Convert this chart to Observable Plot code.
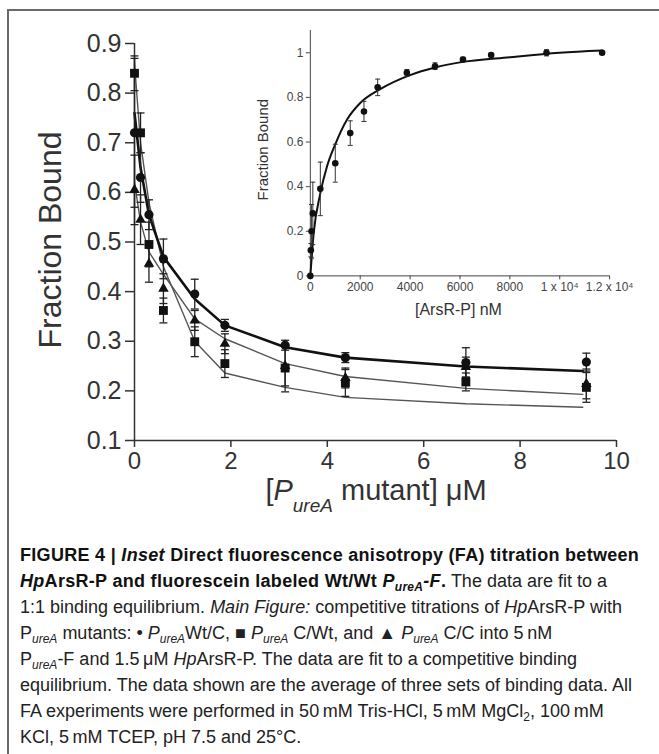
<!DOCTYPE html>
<html><head><meta charset="utf-8">
<script src="https://cdn.jsdelivr.net/npm/d3@7"></script>
<script src="https://cdn.jsdelivr.net/npm/@observablehq/plot@0.6"></script>
<style>
html,body{margin:0;padding:0;background:#fff;}
body{width:659px;height:754px;position:relative;overflow:hidden;font-family:"Liberation Sans",Arial,sans-serif;}
#main{position:absolute;left:0;top:0;}
#inset{position:absolute;left:240px;top:20px;}
#frame{position:absolute;left:7px;top:9px;right:-10px;bottom:-10px;border-left:2px solid #6a6a6a;border-top:2px solid #6a6a6a;pointer-events:none;}
#caption{position:absolute;left:20px;top:542px;font-size:18px;line-height:26px;color:#222;white-space:nowrap;}
#caption sub{font-size:12px;line-height:0;vertical-align:-4px;}
#caption b{color:#111;letter-spacing:0.3px;}
</style></head>
<body>
<div id="main"></div>
<div id="inset"></div>
<div id="frame"></div>
<div id="caption">
<b>FIGURE 4 | <i>Inset</i> Direct fluorescence anisotropy (FA) titration between</b><br>
<b><i>Hp</i>ArsR-P and fluorescein labeled Wt/Wt <i>P<sub>ureA</sub>-F</i>.</b> The data are fit to a<br>
1:1 binding equilibrium. <i>Main Figure:</i> competitive titrations of <i>Hp</i>ArsR-P with<br>
P<sub><i>ureA</i></sub> mutants: &#8226; <i>P<sub>ureA</sub></i>Wt/C, &#9632; <i>P<sub>ureA</sub></i> C/Wt, and &#9650; <i>P<sub>ureA</sub></i> C/C into 5&#8201;nM<br>
P<sub><i>ureA</i></sub>-F and 1.5&#8201;&#956;M <i>Hp</i>ArsR-P. The data are fit to a competitive binding<br>
equilibrium. The data shown are the average of three sets of binding data. All<br>
FA experiments were performed in 50&#8201;mM Tris-HCl, 5&#8201;mM MgCl<sub>2</sub>, 100&#8201;mM<br>
KCl, 5&#8201;mM TCEP, pH 7.5 and 25&#176;C.
</div>
<script>
// ---------- Main figure data ----------
const conc = [0, 0.125, 0.3, 0.6, 1.25, 1.875, 3.125, 4.375, 6.875, 9.375];
const wtC    = [0.72, 0.63, 0.555, 0.466, 0.395, 0.332, 0.292, 0.267, 0.257, 0.258];
const wtCErr = [0.15, 0.05, 0.03, 0.04, 0.03, 0.012, 0.01, 0.01, 0.03, 0.018];
const cWt    = [0.84, 0.72, 0.495, 0.362, 0.299, 0.255, 0.246, 0.216, 0.218, 0.207];
const cWtErr = [0.035, 0.04, 0.045, 0.025, 0.03, 0.028, 0.048, 0.027, 0.018, 0.03];
const cC     = [0.605, 0.545, 0.456, 0.406, 0.342, 0.295, 0.25, 0.226, 0.248, 0.214];
const cCErr  = [0.07, 0.05, 0.037, 0.03, 0.02, 0.02, 0.04, 0.02, 0.02, 0.03];

const fitConc = [0, 0.125, 0.3, 0.6, 1.25, 1.875, 3.125, 4.375, 6.875, 9.3];
const fitWtC  = [0.76, 0.65, 0.555, 0.47, 0.385, 0.332, 0.288, 0.267, 0.249, 0.24];
const fitCC   = [0.62, 0.54, 0.48, 0.435, 0.345, 0.305, 0.255, 0.229, 0.205, 0.193];
const fitCWt  = [0.86, 0.70, 0.58, 0.45, 0.30, 0.236, 0.207, 0.187, 0.174, 0.167];

const xTicks = [0, 2, 4, 6, 8, 10];
const yTicks = [0.1, 0.2, 0.3, 0.4, 0.5, 0.6, 0.7, 0.8, 0.9];

// ---------- Inset data ----------
const insetConc = [0, 20, 50, 100, 400, 1000, 1600, 2150, 2700, 3870, 5000, 6120, 7250, 9470, 11700];
const insetFB   = [0, 0.115, 0.2, 0.28, 0.39, 0.505, 0.64, 0.737, 0.845, 0.91, 0.94, 0.97, 0.99, 1.0, 1.0];
const insetErr  = [0, 0.03, 0.12, 0.14, 0.12, 0.085, 0.055, 0.045, 0.037, 0.015, 0.015, 0.01, 0.008, 0.014, 0.006];
const insetFitConc = [0, 133, 400, 667, 1000, 1467, 2000, 2800, 4000, 5000, 6000, 8000, 10000, 11700];
const insetFitFB   = [0, 0.19, 0.37, 0.49, 0.59, 0.70, 0.775, 0.837, 0.9, 0.934, 0.957, 0.98, 1.0, 1.01];
const insetXTicks = [0, 2000, 4000, 6000, 8000, 10000, 12000];
const insetXTickLabels = ["0", "2000", "4000", "6000", "8000", "1 x 10\u2074", "1.2 x 10\u2074"];
const insetYTicks = [0, 0.2, 0.4, 0.6, 0.8, 1];
const insetYTickLabels = ["0", "0.2", "0.4", "0.6", "0.8", "1"];

// ---------- helpers ----------
const rows = (xs, ys, es) => xs.map((x, i) => ({x, y: ys[i], e: es ? es[i] : 0}));
const capsOf = (rs) => rs.flatMap(d => [{x: d.x, y: d.y - d.e}, {x: d.x, y: d.y + d.e}]);
const capSymbol = {draw(ctx, size) { const w = Math.sqrt(size / Math.PI); ctx.moveTo(-w, 0); ctx.lineTo(w, 0); }};

const sWtC = rows(conc, wtC, wtCErr), sCWt = rows(conc, cWt, cWtErr), sCC = rows(conc, cC, cCErr);
const allPts = [...sWtC, ...sCWt, ...sCC];
const FONT = "Liberation Sans, Arial, Helvetica, sans-serif";

const main = Plot.plot({
  width: 659, height: 530,
  marginLeft: 134, marginRight: 43, marginTop: 43, marginBottom: 90,
  x: {domain: [0, 10]},
  y: {domain: [0.1, 0.9]},
  style: {fontFamily: FONT, color: "#333", background: "transparent"},
  marks: [
    Plot.axisX({ticks: xTicks, tickSize: 7, tickPadding: 4, fontSize: 24, label: null, tickFormat: d => String(d), strokeWidth: 1.5}),
    Plot.axisY({ticks: yTicks, tickSize: 9, tickPadding: 4, fontSize: 25, label: null, tickFormat: d3.format(".1f"), strokeWidth: 1.5}),
    Plot.ruleX([0], {stroke: "#333", strokeWidth: 1.5}),
    Plot.ruleY([0.1], {stroke: "#333", strokeWidth: 1.5}),
    Plot.line(rows(fitConc, fitCWt), {x: "x", y: "y", stroke: "#555", strokeWidth: 1.4}),
    Plot.line(rows(fitConc, fitCC), {x: "x", y: "y", stroke: "#555", strokeWidth: 1.4}),
    Plot.line(rows(fitConc, fitWtC), {x: "x", y: "y", stroke: "#111", strokeWidth: 2.6}),
    Plot.ruleX(allPts, {x: "x", y1: d => d.y - d.e, y2: d => d.y + d.e, stroke: "#222", strokeWidth: 1.3}),
    Plot.dot(capsOf(allPts), {x: "x", y: "y", symbol: capSymbol, r: 4, stroke: "#222", strokeWidth: 1.3, fill: "none"}),
    Plot.dot(sCC, {x: "x", y: "y", symbol: "triangle", r: 3.9, fill: "#111", stroke: "none"}),
    Plot.dot(sCWt, {x: "x", y: "y", symbol: "square", r: 5, fill: "#111", stroke: "none"}),
    Plot.dot(sWtC, {x: "x", y: "y", symbol: "circle", r: 4.6, fill: "#111", stroke: "none"})
  ]
});
document.getElementById("main").appendChild(main);

{
  const svg = d3.select(main);
  svg.append("text").attr("transform", "translate(61,240) rotate(-90)")
    .attr("text-anchor", "middle").attr("fill", "#333")
    .style("font-family", FONT).style("font-size", "32px").text("Fraction Bound");
  const xl = svg.append("text").attr("x", 376).attr("y", 500).attr("text-anchor", "middle")
    .attr("fill", "#333").style("font-family", FONT).style("font-size", "29px");
  xl.append("tspan").text("[");
  xl.append("tspan").attr("font-style", "italic").text("P");
  xl.append("tspan").attr("font-style", "italic").attr("font-size", "19px").attr("dy", 12).text("ureA");
  xl.append("tspan").attr("dy", -12).text(" mutant] \u03BCM");
}

// ---------- inset ----------
const sInset = rows(insetConc, insetFB, insetErr);
const inset = Plot.plot({
  width: 420, height: 310,
  marginLeft: 70, marginRight: 50, marginTop: 10, marginBottom: 54,
  x: {domain: [0, 12000]},
  y: {domain: [0, 1.1]},
  style: {fontFamily: FONT, color: "#444", background: "transparent"},
  marks: [
    Plot.axisX({ticks: insetXTicks, tickFormat: d => insetXTickLabels[insetXTicks.indexOf(d)], tickSize: 4, tickPadding: 3, fontSize: 12, label: null}),
    Plot.axisY({ticks: insetYTicks, tickFormat: d => insetYTickLabels[insetYTicks.indexOf(d)], tickSize: 4, tickPadding: 3, fontSize: 12, label: null}),
    Plot.ruleX([0], {stroke: "#444", strokeWidth: 1}),
    Plot.ruleY([0], {stroke: "#444", strokeWidth: 1}),
    Plot.line(rows(insetFitConc, insetFitFB), {x: "x", y: "y", stroke: "#111", strokeWidth: 2, curve: "monotone-x"}),
    Plot.ruleX(sInset.filter(d => d.e > 0), {x: "x", y1: d => d.y - d.e, y2: d => d.y + d.e, stroke: "#333", strokeWidth: 1}),
    Plot.dot(capsOf(sInset.filter(d => d.e > 0)), {x: "x", y: "y", symbol: capSymbol, r: 2.5, stroke: "#333", strokeWidth: 1, fill: "none"}),
    Plot.dot(sInset, {x: "x", y: "y", r: 3.3, fill: "#111", stroke: "none"})
  ]
});
document.getElementById("inset").appendChild(inset);
{
  const svg = d3.select(inset);
  svg.append("text").attr("transform", "translate(28,130) rotate(-90)")
    .attr("text-anchor", "middle").attr("fill", "#333")
    .style("font-family", FONT).style("font-size", "15px").text("Fraction Bound");
  svg.append("text").attr("x", 219).attr("y", 296).attr("text-anchor", "middle")
    .attr("fill", "#333").style("font-family", FONT).style("font-size", "16px").text("[ArsR-P] nM");
}
</script>
</body></html>
